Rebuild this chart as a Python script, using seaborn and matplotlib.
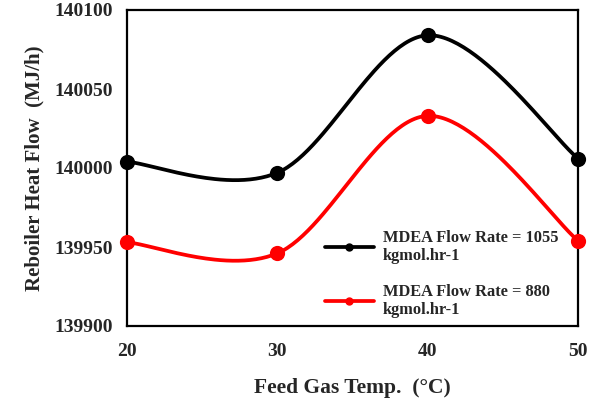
import numpy as np
import pandas as pd
import matplotlib
matplotlib.use("Agg")
import matplotlib.pyplot as plt
import seaborn as sns
from matplotlib.lines import Line2D

temps = [20, 30, 40, 50]
flow_1055 = [140004, 139997, 140084, 140006]
flow_880 = [139953, 139946, 140033, 139954]
series_labels = ["MDEA Flow Rate = 1055\nkgmol.hr-1", "MDEA Flow Rate = 880\nkgmol.hr-1"]
series_colors = ["#000000", "#ff0000"]
y_ticks = [139900, 139950, 140000, 140050, 140100]
x_ticks = [20, 30, 40, 50]

sns.set_theme(style="white")
plt.rcParams["font.family"] = ["Liberation Serif", "DejaVu Serif"]
plt.rcParams["font.weight"] = "bold"

fig = plt.figure(figsize=(5.93, 4.0), dpi=100)
ax = fig.add_axes([127/593, 1-326/400, (578-127)/593, (326-10)/400])

xmin, xmax, ymin, ymax = 20, 50, 139900, 140100
W, H = 451.0, 316.0

def smooth(xs, ys, n=60):
    # Excel-like smoothed line (Catmull-Rom Bezier in display space)
    px = (np.array(xs, float) - xmin) / (xmax - xmin) * W
    py = (np.array(ys, float) - ymin) / (ymax - ymin) * H
    P = np.column_stack([px, py])
    m = len(P)
    out = []
    for i in range(m - 1):
        p0 = P[i - 1] if i > 0 else P[i]
        p1 = P[i]
        p2 = P[i + 1]
        p3 = P[i + 2] if i + 2 < m else P[i + 1]
        c1 = p1 + (p2 - p0) / 6.0
        c2 = p2 - (p3 - p1) / 6.0
        t = np.linspace(0, 1, n)[:, None]
        seg = ((1 - t) ** 3) * p1 + 3 * ((1 - t) ** 2) * t * c1 + 3 * (1 - t) * t ** 2 * c2 + t ** 3 * p2
        if i > 0:
            seg = seg[1:]
        out.append(seg)
    S = np.vstack(out)
    return S[:, 0] / W * (xmax - xmin) + xmin, S[:, 1] / H * (ymax - ymin) + ymin

handles = []
for vals, lab, col in zip([flow_1055, flow_880], series_labels, series_colors):
    sx, sy = smooth(temps, vals)
    curve = pd.DataFrame({"x": sx, "y": sy})
    sns.lineplot(data=curve, x="x", y="y", sort=False, color=col, lw=2.7, ax=ax, legend=False)
    pts = pd.DataFrame({"x": temps, "y": vals})
    sns.scatterplot(data=pts, x="x", y="y", color=col, s=120, edgecolor=col, linewidth=0, ax=ax, legend=False, zorder=5, clip_on=False)
    handles.append(Line2D([0], [0], color=col, lw=2.7, marker="o", markersize=5))

ax.set_xlim(xmin, xmax)
ax.set_ylim(ymin, ymax)
ax.set_xticks(x_ticks)
ax.set_yticks(y_ticks)
ax.set_xticklabels([str(v) for v in x_ticks], fontsize=14, fontweight="bold")
ax.set_yticklabels([str(v) for v in y_ticks], fontsize=14, fontweight="bold")
ax.tick_params(axis="x", length=0, pad=12)
ax.tick_params(axis="y", length=0, pad=10)
for s in ax.spines.values():
    s.set_visible(True)
    s.set_color("black")
    s.set_linewidth(1.6)
ax.grid(False)
ax.set_xlabel("Feed Gas Temp.  (°C)", fontsize=15.5, fontweight="bold", labelpad=13)
ax.set_ylabel("Reboiler Heat Flow  (MJ/h)", fontsize=15, fontweight="bold", labelpad=7)

leg = ax.legend(handles, series_labels, loc="upper left", bbox_to_anchor=((318-127)/451, (326-223)/316),
                frameon=False, prop={"family": "Liberation Serif", "weight": "bold", "size": 11.8},
                handlelength=3.0, handletextpad=0.55, labelspacing=1.2, borderaxespad=0)

fig.savefig("out.png", dpi=100)
